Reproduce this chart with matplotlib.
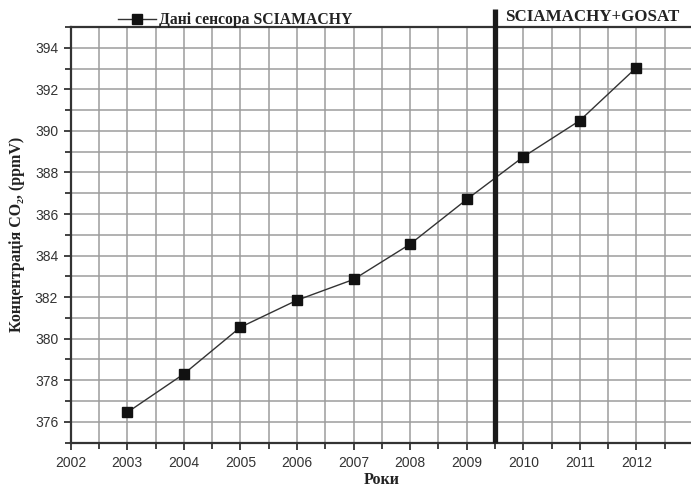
import numpy as np
import matplotlib
matplotlib.use("Agg")
import matplotlib.pyplot as plt
from matplotlib.ticker import MultipleLocator

# data
years = [2003, 2004, 2005, 2006, 2007, 2008, 2009, 2010, 2011, 2012]
co2 = [376.45, 378.3, 380.55, 381.85, 382.85, 384.55, 386.7, 388.75, 390.5, 393.05]
split_year = 2009.5

series_label = "Дані сенсора SCIAMACHY"
right_label = "SCIAMACHY+GOSAT"
xlabel = "Роки"
ylabel = "Концентрація CO₂, (ppmV)"

serif = ["Liberation Serif", "DejaVu Serif"]
sans = ["Liberation Sans", "DejaVu Sans"]

fig = plt.figure(figsize=(6.91, 4.88), dpi=100)
ax = fig.add_axes([0.1023, 0.0932, 0.9006, 0.8514])

grid_col = "#9c9c9c"
ax.set_xlim(2002, 2013)
ax.set_ylim(375, 395)
ax.xaxis.set_major_locator(MultipleLocator(1))
ax.xaxis.set_minor_locator(MultipleLocator(0.5))
ax.yaxis.set_major_locator(MultipleLocator(2))
ax.yaxis.set_minor_locator(MultipleLocator(1))
ax.grid(which="both", color=grid_col, linewidth=1.1)
ax.set_axisbelow(True)

ax.plot(years, co2, color="#333333", linewidth=1.0, marker="s",
        markersize=7, markerfacecolor="#111111", markeredgecolor="#111111",
        label=series_label, zorder=3)

# thick separator line, sticks out above the frame
ax.plot([split_year, split_year], [375, 395.85], color="#1a1a1a",
        linewidth=3.8, clip_on=False, zorder=4, solid_capstyle="butt")

for s in ["left", "bottom", "top"]:
    ax.spines[s].set_color("#333333")
    ax.spines[s].set_linewidth(1.6)
ax.spines["right"].set_visible(False)

ax.tick_params(which="major", direction="out", length=5, width=1.3,
               color="#333333", labelsize=10, labelcolor="#333333")
ax.tick_params(which="minor", direction="out", length=4, width=1.3,
               color="#333333")
ax.set_xticks(range(2002, 2013))
for lab in ax.get_xticklabels() + ax.get_yticklabels():
    lab.set_family(sans)
ax.tick_params(axis="x", pad=5)
ax.tick_params(axis="y", pad=4)

ax.set_xlabel(xlabel, family=serif, fontweight="bold", fontsize=11.5,
              color="#222222", labelpad=1)
ax.set_ylabel(ylabel, family=serif, fontweight="bold", fontsize=11.5,
              color="#222222", labelpad=7)

leg = ax.legend(loc="lower left", bbox_to_anchor=(0.066, 0.982), frameon=False,
                handlelength=2.4, handletextpad=0.2, borderaxespad=0,
                prop={"family": serif, "weight": "bold", "size": 11.3})
for t in leg.get_texts():
    t.set_color("#222222")

ax.text(2009.68, 395.5, right_label, family=serif, fontweight="bold",
        fontsize=12.2, color="#222222", ha="left", va="center", clip_on=False)

fig.savefig("out.png", dpi=100)
